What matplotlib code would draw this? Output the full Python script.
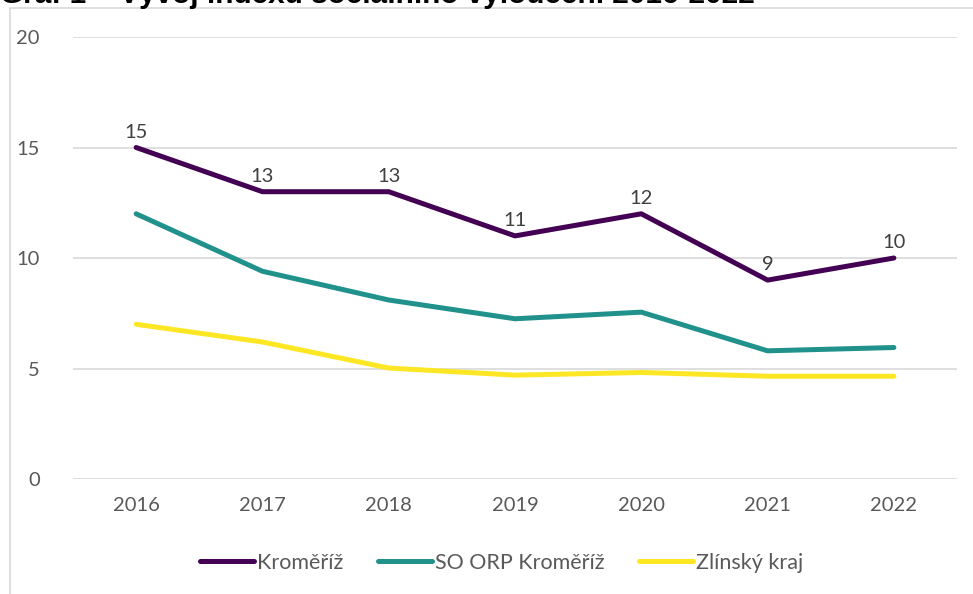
import matplotlib.pyplot as plt
from matplotlib.patches import Rectangle

years = ['2016', '2017', '2018', '2019', '2020', '2021', '2022']
kromeriz = [15, 13, 13, 11, 12, 9, 10]
so_orp = [12.0, 9.4, 8.1, 7.25, 7.55, 5.8, 5.95]
zlinsky = [7.0, 6.2, 5.02, 4.7, 4.82, 4.65, 4.65]

plt.rcParams['font.family'] = ['Lato', 'DejaVu Sans']

fig = plt.figure(figsize=(9.73, 5.94), dpi=100)
ax = fig.add_axes([0.075, 0.1936, 0.9086, 0.7441])

# chart frame (partly outside the picture)
fig.patches.append(Rectangle((10 / 973, -0.1), 1.2, 1 - 8 / 594 + 0.1,
                             transform=fig.transFigure, fill=False,
                             edgecolor='#d9d9d9', linewidth=1.2))

x = range(len(years))
ax.plot(x, kromeriz, color='#440154', linewidth=3.6, solid_capstyle='round',
        label='Kroměříž')
ax.plot(x, so_orp, color='#21918c', linewidth=3.6, solid_capstyle='round',
        label='SO ORP Kroměříž')
ax.plot(x, zlinsky, color='#fde725', linewidth=3.6, solid_capstyle='round',
        label='Zlínský kraj')

for i, v in enumerate(kromeriz):
    ax.annotate(str(v), (i, v), xytext=(0, 5), textcoords='offset points',
                ha='center', va='bottom', fontsize=14.5, color='#404040')

ax.set_xlim(-0.5, len(years) - 0.5)
ax.set_ylim(0, 20)
ax.set_yticks([0, 5, 10, 15, 20])
ax.set_xticks(list(x))
ax.set_xticklabels(years)
ax.grid(axis='y', color='#d9d9d9', linewidth=1.2)
ax.set_axisbelow(True)
for s in ax.spines.values():
    s.set_visible(False)
ax.tick_params(length=0, labelsize=14.5, labelcolor='#595959')
ax.tick_params(axis='x', pad=13)
ax.tick_params(axis='y', pad=24)

ax.legend(loc='center', bbox_to_anchor=(0.485, -0.19), ncol=3, frameon=False,
          fontsize=15.5, labelcolor='#595959', handlelength=2.5,
          handletextpad=0.15, columnspacing=1.6)

fig.text(0.0, 1 - 3 / 594, 'Graf 1 – Vývoj indexu sociálního vyloučení 2016-2022',
         fontsize=21.4, fontweight='bold', family=['Liberation Sans', 'DejaVu Sans'],
         va='baseline', ha='left', color='black')

fig.savefig('out.png', dpi=100)
